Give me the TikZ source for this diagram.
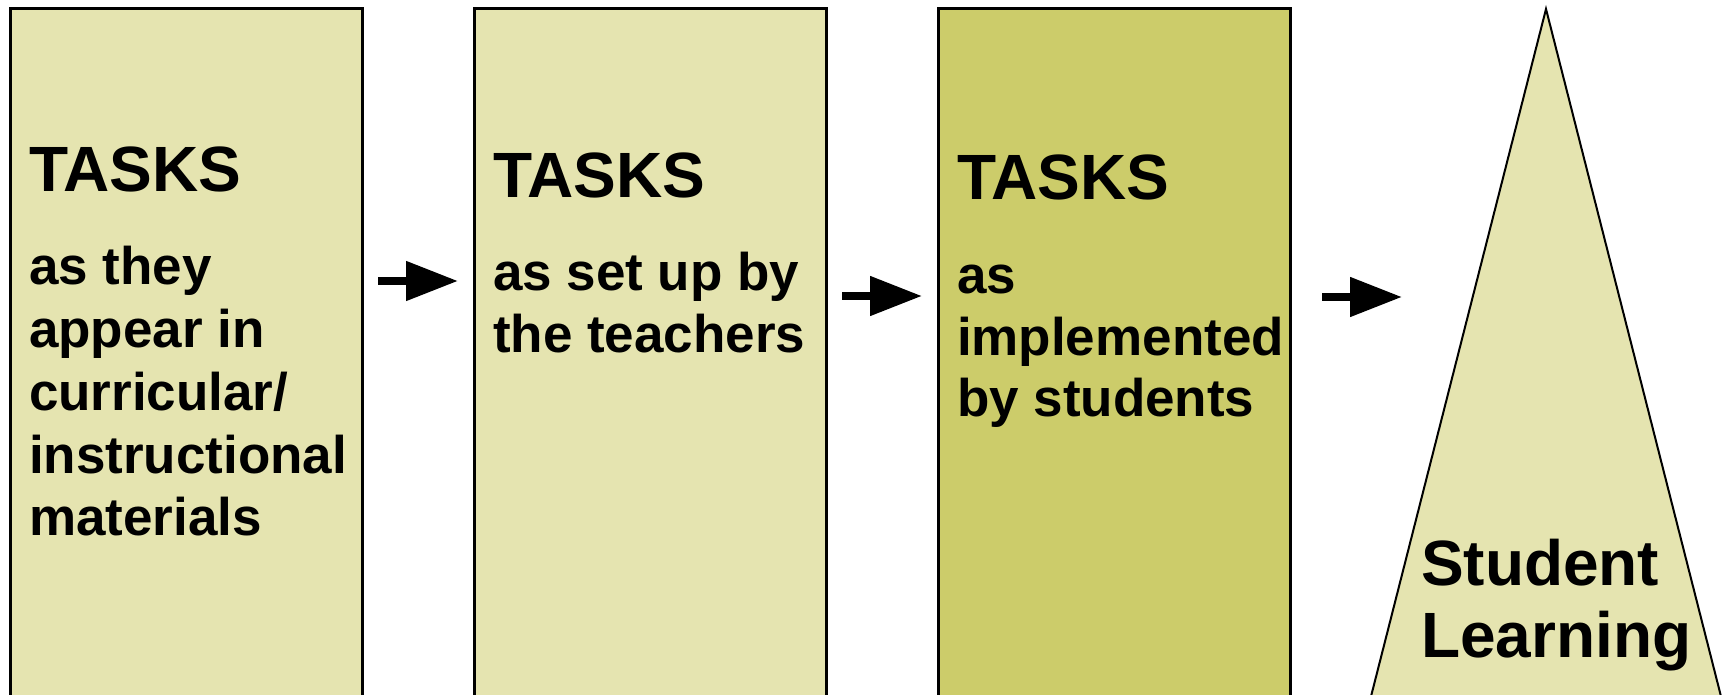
\documentclass[tikz,border=0pt]{standalone}
\usepackage{fontspec}
\setmainfont{Liberation Sans}
\usetikzlibrary{arrows.meta}
\definecolor{lightkhaki}{RGB}{229,228,176}
\definecolor{darkkhaki}{RGB}{204,204,106}
\begin{document}
\begin{tikzpicture}[x=1pt,y=-1pt,
  box/.style={draw=black, line width=3pt, anchor=north west, minimum width=352pt, minimum height=720pt, inner sep=0pt, outer sep=0pt},
  headtxt/.style={anchor=base west, inner sep=0pt, outer sep=0pt, font=\fontsize{64}{72}\selectfont\bfseries},
  bodytxt/.style={anchor=base west, inner sep=0pt, outer sep=0pt, font=\fontsize{53}{62}\selectfont\bfseries},
  flow/.style={line width=8pt, -{Triangle[length=52pt,width=38pt]}}]
\useasboundingbox (0,0) rectangle (1727,695);
\clip (0,0) rectangle (1727,695);
% boxes
\node[box, fill=lightkhaki] (b1) at (10,9) {};
\node[box, fill=lightkhaki] (b2) at (474,9) {};
\node[box, fill=darkkhaki] (b3) at (938,9) {};
% triangle
\coordinate (apex) at (1546,9);
\coordinate (bl) at (1365,720);
\coordinate (br) at (1727,720);
\draw[fill=lightkhaki, line width=2pt] (bl) -- (apex) -- (br) -- cycle;
% box 1 text
\node[headtxt] (h1) at (29,192) {TASKS};
\node[bodytxt] (t1a) at (29,284) {as they};
\node[bodytxt] (t1b) at (29,347) {appear in};
\node[bodytxt] (t1c) at (29,410) {curricular/};
\node[bodytxt] (t1d) at (29,473) {instructional};
\node[bodytxt] (t1e) at (29,535) {materials};
% box 2 text
\node[headtxt] (h2) at (493,198) {TASKS};
\node[bodytxt] (t2a) at (493,290) {as set up by};
\node[bodytxt] (t2b) at (493,352) {the teachers};
% box 3 text
\node[headtxt] (h3) at (957,200) {TASKS};
\node[bodytxt] (t3a) at (957,293) {as};
\node[bodytxt] (t3b) at (957,355) {implemented};
\node[bodytxt] (t3c) at (957,416) {by students};
% triangle text
\node[headtxt] (s1) at (1421,585) {Student};
\node[headtxt] (s2) at (1421,657) {Learning};
% arrows
\coordinate (a1s) at (378,281);
\coordinate (a1e) at (458,281);
\coordinate (a2s) at (842,296);
\coordinate (a2e) at (922,296);
\coordinate (a3s) at (1322,297);
\coordinate (a3e) at (1402,297);
\draw[flow] (a1s) -- (a1e);
\draw[flow] (a2s) -- (a2e);
\draw[flow] (a3s) -- (a3e);
\end{tikzpicture}
\end{document}
